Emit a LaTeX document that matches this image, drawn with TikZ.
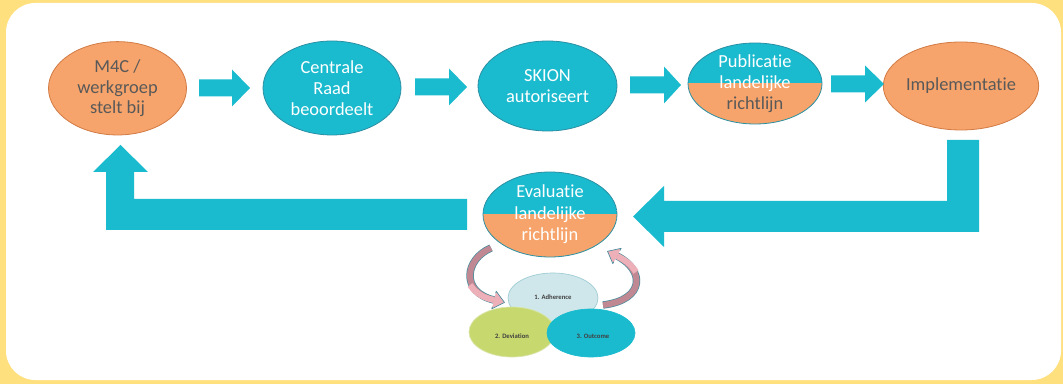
\documentclass[tikz,border=0pt]{standalone}
\usepackage{fontspec}
\setmainfont{Carlito}[Ligatures=NoCommon]
\usetikzlibrary{shapes.geometric}
\definecolor{bgyellow}{HTML}{FFE07F}
\definecolor{cyanF}{HTML}{1ABBCF}
\definecolor{cyanD}{HTML}{2A8FA3}
\definecolor{orangeF}{HTML}{F6A46B}
\definecolor{orangeD}{HTML}{D27B45}
\definecolor{txtgray}{HTML}{595959}
\definecolor{pinkF}{HTML}{DC9CA5}
\definecolor{pinkL}{HTML}{EDB0B8}
\definecolor{pinkM}{HTML}{C08892}
\definecolor{pinkD}{HTML}{4A8E9E}
\definecolor{adhF}{HTML}{CFE7EA}
\definecolor{adhD}{HTML}{9CCCD4}
\definecolor{devF}{HTML}{C6D86E}
\definecolor{devD}{HTML}{D9E5A6}
\definecolor{smalltxt}{HTML}{404040}
\newcommand\hblockarrow[4]{%
  \fill[cyanF] (#1,#4-8.5) -- (#2,#4-8.5) -- (#2,#4-18.5) -- (#3,#4)
    -- (#2,#4+18.5) -- (#2,#4+8.5) -- (#1,#4+8.5) -- cycle;}
\begin{document}
\begin{tikzpicture}[x=0.75pt,y=-0.75pt,
  ell/.style={ellipse, inner sep=0pt, line width=0.6pt},
  cyanell/.style={ell, fill=cyanF, draw=cyanD},
  orangeell/.style={ell, fill=orangeF, draw=orangeD},
  splitell/.style={ell, draw=cyanD,
    path picture={\fill[cyanF] (path picture bounding box.north west) rectangle (path picture bounding box.east);
                  \fill[orangeF] (path picture bounding box.west) rectangle (path picture bounding box.south east);}},
  bigtxt/.style={align=center, inner sep=0pt, font=\fontsize{13.8}{15.6}\selectfont},
  smallell/.style={ell, line width=0.5pt},
  smalltext/.style={inner sep=0pt, text=smalltxt, font=\fontsize{5}{6}\selectfont\bfseries},
  pinkband/.style={line width=5.6pt, draw=pinkD},
  pinkfill/.style={line width=4.5pt, draw=pinkF},
]
% background
\fill[bgyellow] (0,0) rectangle (1063,384);
\fill[white, rounded corners=22pt] (6,3) rectangle (1061,380);

% top row
\node[orangeell, minimum width=103.5pt, minimum height=70pt, text=txtgray, bigtxt] (m4c) at (117.5,88.3) {M4C /\\werkgroep\\stelt bij};
\node[cyanell, minimum width=103.5pt, minimum height=70.5pt, text=white, bigtxt] (craad) at (332,88) {Centrale\\Raad\\beoordeelt};
\node[cyanell, minimum width=104.25pt, minimum height=67.5pt, text=white, bigtxt] (skion) at (547.5,86) {SKION\\autoriseert};
\node[splitell, minimum width=100.5pt, minimum height=60.75pt] (pub) at (755,83.5) {};
\node[bigtxt, text=white] (pubtxt) at (pub.center) {Publicatie\\landelijke\\\textcolor{txtgray}{richtlijn}};
\node[orangeell, minimum width=103.5pt, minimum height=66pt, text=txtgray, bigtxt] (impl) at (961,86) {Implementatie};

% evaluation
\node[splitell, minimum width=100.5pt, minimum height=63.75pt] (eval) at (550,214.5) {};
\node[align=center, inner sep=0pt, font=\fontsize{13.8}{16.2}\selectfont, text=white] (evaltxt) at (eval.center) {Evaluatie\\landelijke\\richtlijn};

% small ellipses
\node[smallell, fill=adhF, draw=adhD, minimum width=67.5pt, minimum height=37.5pt] (adh) at (553,298) {};
\node[smallell, fill=devF, draw=devD, minimum width=64.5pt, minimum height=37.5pt] (dev) at (512,332) {};
\node[smallell, fill=cyanF, draw=cyanF, minimum width=66pt, minimum height=36pt] (out) at (591,333) {};
\node[smalltext] (adhtxt) at (553,297.5) {1. Adherence};
\node[smalltext] (devtxt) at (512,336) {2. Deviation};
\node[smalltext] (outtxt) at (593,336.5) {3. Outcome};

% top block arrows
\hblockarrow{199}{232}{250}{88}
\hblockarrow{415}{449}{467}{87}
\hblockarrow{630}{664}{681}{85}
\hblockarrow{831}{865}{884}{84}

% right L-shaped arrow (Implementatie -> Evaluatie)
\fill[cyanF] (947,140) -- (979,140) -- (979,232) -- (664,232) -- (664,247)
  -- (633,216.5) -- (664,186) -- (664,201) -- (947,201) -- cycle;
% left L-shaped arrow (Evaluatie -> M4C)
\fill[cyanF] (467,199) -- (467,230) -- (106,230) -- (106,172) -- (93,172)
  -- (120.5,145) -- (148,172) -- (134,172) -- (134,199) -- cycle;

% curved pink arrows
\draw[pinkband] (491,248) .. controls (465,259) and (460,292) .. (494,300);
\draw[pinkfill, draw=pinkM] (491,248) .. controls (465,259) and (460,292) .. (494,300);
\draw[line width=4.5pt, draw=pinkL] (470,285) .. controls (477,295) and (485,298) .. (494,300);
\fill[pinkL] (496.2,291.2) -- (504.5,302.5) -- (491.8,308.8) -- cycle;
\draw[pinkD, line width=0.5pt, line join=round] (495.6,293.4) -- (496.2,291.2) -- (504.5,302.5) -- (491.8,308.8) -- (492.4,306.6);

\draw[pinkband] (603,305) .. controls (645,300) and (645,270) .. (617,256);
\draw[pinkfill, draw=pinkM] (603,305) .. controls (645,300) and (645,270) .. (617,256);
\draw[line width=4.5pt, draw=pinkL] (636,272) .. controls (630,263) and (624,259.5) .. (617,256);
\fill[pinkL] (621.2,248.3) -- (607.5,251.3) -- (612.8,263.7) -- cycle;
\draw[pinkD, line width=0.5pt, line join=round] (620.1,250.5) -- (621.2,248.3) -- (607.5,251.3) -- (612.8,263.7) -- (613.9,261.5);
\end{tikzpicture}
\end{document}
